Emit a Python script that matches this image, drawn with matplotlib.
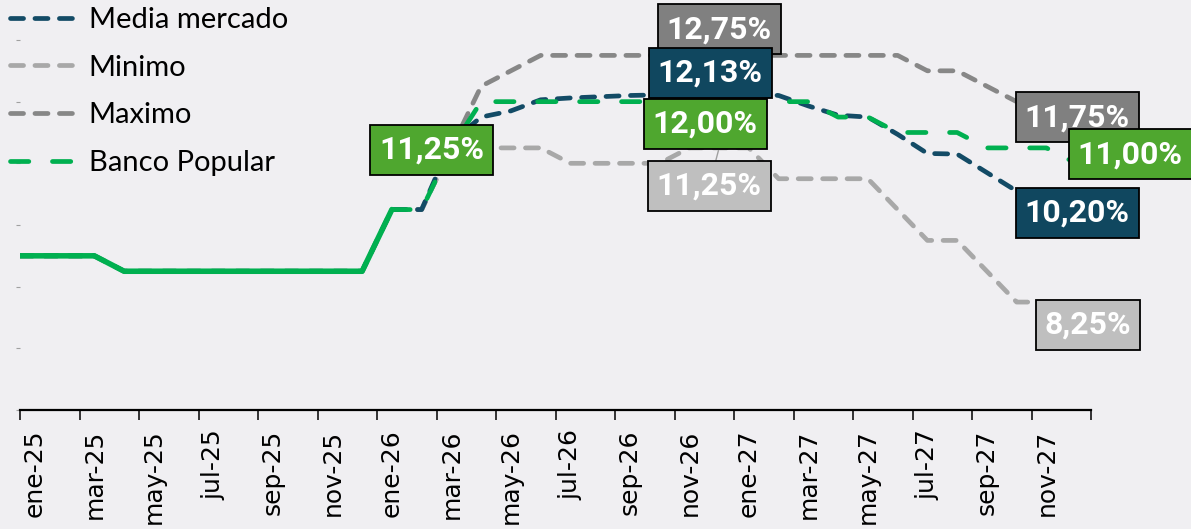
import numpy as np
import matplotlib
matplotlib.use("Agg")
import matplotlib.pyplot as plt
from matplotlib.path import Path
from matplotlib.lines import Line2D

# month categories, ene-25 .. dic-27
mes = ['ene', 'feb', 'mar', 'abr', 'may', 'jun', 'jul', 'ago', 'sep', 'oct', 'nov', 'dic']
months = [m + '-' + y for y in ['25', '26', '27'] for m in mes]

# observed policy rate, ene-25 .. ene-26
history = [9.50, 9.50, 9.50, 9.25, 9.25, 9.25, 9.25, 9.25, 9.25, 9.25, 9.25, 9.25, 10.25]

# forecasts, ene-26 .. dic-27
banco_popular = [10.25, 10.25, 11.25, 12.00, 12.00, 12.00, 12.00, 12.00, 12.00, 12.00, 12.00, 12.00,
                 12.00, 12.00, 12.00, 11.75, 11.75, 11.50, 11.50, 11.50, 11.25, 11.25, 11.25, 11.00]
media = [10.25, 10.25, 11.35, 11.75, 11.85, 12.03, 12.06, 12.08, 12.10, 12.11, 12.13, 12.13,
         12.13, 12.10, 11.93, 11.78, 11.75, 11.47, 11.16, 11.15, 10.85, 10.55, 10.38, 10.20]
maximo = [10.25, 10.25, 11.25, 12.25, 12.50, 12.75, 12.75, 12.75, 12.75, 12.75, 12.75, 12.75,
          12.75, 12.75, 12.75, 12.75, 12.75, 12.75, 12.50, 12.50, 12.25, 12.00, 11.75, 11.75]
minimo = [10.25, 10.25, 11.25, 11.25, 11.25, 11.25, 11.00, 11.00, 11.00, 11.00, 11.25, 11.25,
          11.25, 10.75, 10.75, 10.75, 10.75, 10.25, 9.75, 9.75, 9.25, 8.75, 8.75, 8.25]

# colours
bg = '#F0EFF2'
c_media = '#134B66'
c_max = '#878787'
c_min = '#A8A8A8'
c_bp = '#00B050'
box_bp = '#4FA72F'
box_media = '#10475F'
box_max = '#808080'
box_min = '#BFBFBF'

plt.rcParams['lines.scale_dashes'] = False

# x position of each month: centre of its slot, first point on the axis edge
pos = np.arange(len(months)) + 0.5
pos[0] = 0.0
n_hist = len(history)
start_fc = n_hist - 1

full_media = history[:-1] + media
full_max = history[:-1] + maximo
full_min = history[:-1] + minimo

fig = plt.figure(figsize=(11.91, 5.29), dpi=100, facecolor=bg)
ax = fig.add_axes([20 / 1191, 1 - 410 / 529, 1071 / 1191, 410 / 529])
ax.set_facecolor(bg)

lw = 3.4
short_dash = (9.4, 8.2)
long_dash = (13.2, 17.0)

ax.plot(pos, full_max, color=c_max, lw=lw, dashes=short_dash, dash_capstyle='round', zorder=2)
ax.plot(pos, full_min, color=c_min, lw=lw, dashes=short_dash, dash_capstyle='round', zorder=2)
ax.plot(pos, full_media, color=c_media, lw=lw, dashes=short_dash, dash_capstyle='round', zorder=3)
ax.plot(pos[start_fc:], banco_popular, color=c_bp, lw=lw, dashes=long_dash,
        dash_capstyle='round', zorder=4)
ax.plot(pos[:n_hist], history, color=c_bp, lw=4.0, solid_capstyle='round',
        solid_joinstyle='round', zorder=5)

ax.set_xlim(0, 36)
ax.set_ylim(7, 7 + 410 / 61.67)

for side in ['left', 'top', 'right']:
    ax.spines[side].set_visible(False)
ax.spines['bottom'].set_linewidth(1.6)
ax.spines['bottom'].set_color('black')

ax.set_xticks(np.arange(0, 37, 2))
ax.set_xticklabels([])
ax.set_xticks(np.arange(0, 36, 2) + 0.5, minor=True)
ax.set_xticklabels(months[::2], minor=True, rotation=90, fontsize=18,
                   family='DejaVu Sans')
ax.tick_params(axis='x', which='major', length=7.5, width=1.1, color='black', direction='out')
ax.tick_params(axis='x', which='minor', length=0, pad=14)

ax.set_yticks(np.arange(7, 14, 1))
ax.set_yticklabels([])
ax.tick_params(axis='y', length=3, width=0.8, color='#A0A0A0')


def label_box(x0, y0, width, height, mutation_size):
    padx = 0.28 * mutation_size
    pady = 0.31 * mutation_size
    x0, y0 = x0 - padx, y0 - pady
    x1, y1 = x0 + width + 2 * padx, y0 + height + 2 * pady
    return Path([(x0, y0), (x1, y0), (x1, y1), (x0, y1), (x0, y0)], closed=True)


# (text, series, index within series, box colour, offset in pixels)
labels = [
    ('11,25%', banco_popular, 2, box_bp, (-20, -2)),
    ('12,75%', maximo, 11, box_max, (0, 26)),
    ('12,13%', media, 11, box_media, (-9, 21)),
    ('12,00%', banco_popular, 11, box_bp, (-14, -22)),
    ('11,25%', minimo, 11, box_min, (-10, -38)),
    ('11,75%', maximo, 23, box_max, (1, 0)),
    ('11,00%', banco_popular, 23, box_bp, (54, 9)),
    ('10,20%', media, 23, box_media, (1, 0)),
    ('8,25%', minimo, 23, box_min, (12, 8)),
]

for text, series, i, color, off in labels:
    xy = (pos[start_fc + i], series[i])
    arrow = None
    if color == box_min and i == 11:
        arrow = dict(arrowstyle='-', color='#A0A0A0', lw=1.0, shrinkA=0, shrinkB=2)
    ax.annotate(text, xy=xy, xytext=off, textcoords='offset pixels',
                ha='center', va='center', color='white', fontsize=23,
                family='Roboto', fontweight='bold', zorder=10,
                annotation_clip=False, arrowprops=arrow,
                bbox=dict(boxstyle=label_box, fc=color, ec='black', lw=1.3))

handles = [
    Line2D([], [], color=c_media, lw=lw, dashes=short_dash, dash_capstyle='round'),
    Line2D([], [], color=c_min, lw=lw, dashes=short_dash, dash_capstyle='round'),
    Line2D([], [], color=c_max, lw=lw, dashes=short_dash, dash_capstyle='round'),
    Line2D([], [], color=c_bp, lw=lw, dashes=long_dash, dash_capstyle='round'),
]
names = ['Media mercado', 'Minimo', 'Maximo', 'Banco Popular']
leg = fig.legend(handles, names, loc='upper left', bbox_to_anchor=(10 / 1191, 1 - 7 / 529),
                 bbox_transform=fig.transFigure, frameon=False, borderpad=0,
                 borderaxespad=0, handlelength=2.3, handletextpad=0.4,
                 labelspacing=0.74, prop={'family': 'Lato', 'size': 21})
leg.set_zorder(20)

fig.savefig('out.png', dpi=100, facecolor=bg)
